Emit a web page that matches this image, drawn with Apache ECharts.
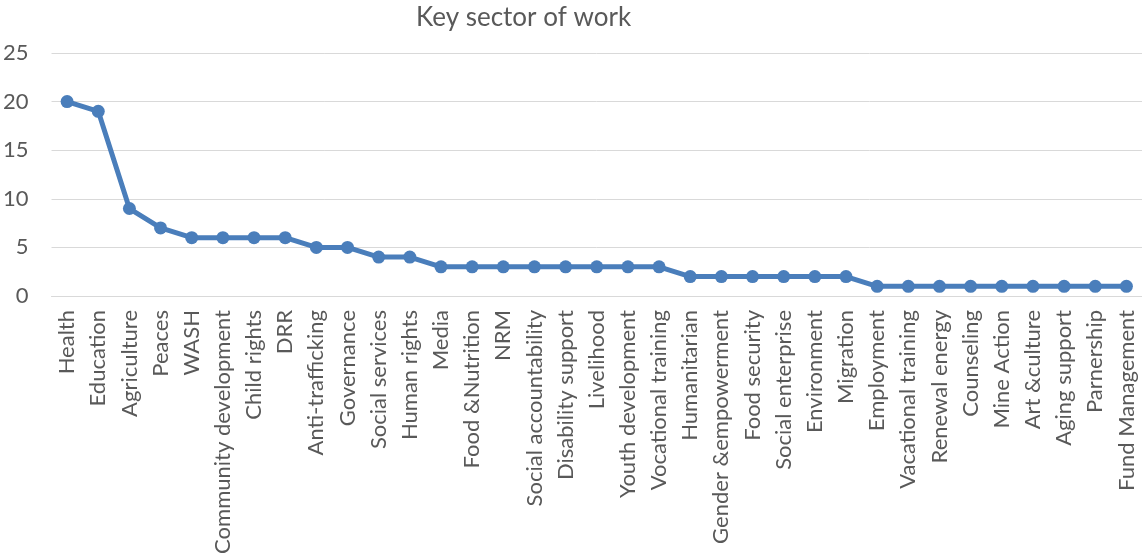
<!DOCTYPE html>
<html><head><meta charset="utf-8">
<script src="https://cdn.jsdelivr.net/npm/echarts@6/dist/echarts.min.js"></script>
<style>html,body{margin:0;padding:0;background:#fff}#c{width:1142px;height:560px}</style>
</head><body><div id="c"></div>
<script>
const categories = ["Health","Education","Agriculture","Peaces","WASH","Community development","Child rights","DRR","Anti-trafficking","Governance","Social services","Human rights","Media","Food &Nutrition","NRM","Social accountability","Disability support","Livelihood","Youth development","Vocational training","Humanitarian","Gender &empowerment","Food security","Social enterprise","Environment","Migration","Employment","Vacational training","Renewal energy","Counseling","Mine Action","Art &culture","Aging support","Parnership","Fund Management"];
const values = [20,19,9,7,6,6,6,6,5,5,4,4,3,3,3,3,3,3,3,3,2,2,2,2,2,2,1,1,1,1,1,1,1,1,1];
const yTicks = [0,5,10,15,20,25];
const title = "Key sector of work";

const chart = echarts.init(document.getElementById('c'), null, {renderer:'canvas'});
const font = 'Lato, "Open Sans", sans-serif';
chart.setOption({
  animation:false,
  title:{text:title,left:411,top:0,textStyle:{fontFamily:font,fontSize:26,fontWeight:'normal',color:'#595959'}},
  grid:{left:50,right:0,top:53,bottom:264,containLabel:false},
  xAxis:{type:'category',data:categories,boundaryGap:true,
    axisLine:{show:true,lineStyle:{color:'#d9d9d9',width:1}},
    axisTick:{show:false},
    axisLabel:{rotate:90,interval:0,margin:14,fontFamily:font,fontSize:22,color:'#595959'}},
  yAxis:{type:'value',min:yTicks[0],max:yTicks[yTicks.length-1],interval:5,
    axisLine:{show:false},axisTick:{show:false},
    splitLine:{lineStyle:{color:'#d9d9d9',width:1}},
    axisLabel:{fontFamily:font,fontSize:22,color:'#595959',margin:23,align:'right',
      formatter:v=>String(v)}},
  series:[{type:'line',data:values,symbol:'circle',symbolSize:13,
    lineStyle:{color:'#4a7ebb',width:5},itemStyle:{color:'#4a7ebb'}}]
});
</script></body></html>
